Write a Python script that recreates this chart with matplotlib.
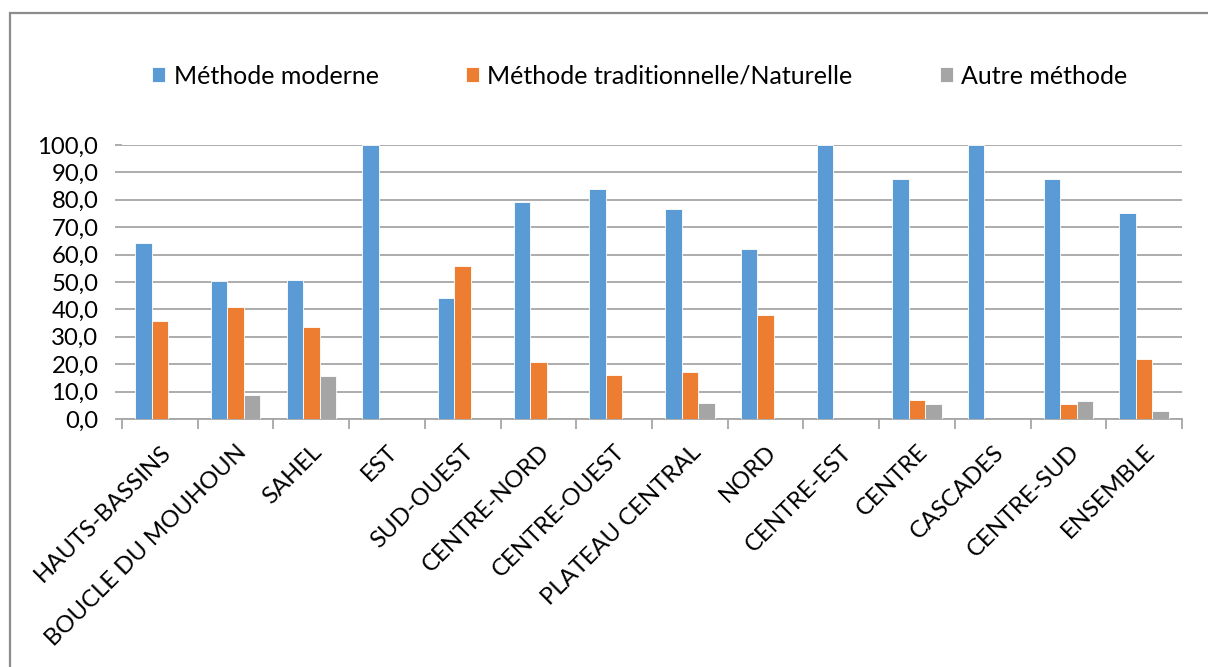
import matplotlib
matplotlib.use("Agg")
import matplotlib.pyplot as plt
import numpy as np
from matplotlib.patches import Rectangle
from matplotlib.ticker import FixedLocator, FuncFormatter

categories = ["HAUTS-BASSINS", "BOUCLE DU MOUHOUN", "SAHEL", "EST", "SUD-OUEST",
              "CENTRE-NORD", "CENTRE-OUEST", "PLATEAU CENTRAL", "NORD", "CENTRE-EST",
              "CENTRE", "CASCADES", "CENTRE-SUD", "ENSEMBLE"]
moderne = [64.1, 50.4, 50.6, 100.0, 44.3, 79.1, 83.8, 76.8, 61.9, 100.0, 87.7, 100.0, 87.7, 75.1]
traditionnelle = [35.9, 40.8, 33.6, 0.0, 55.7, 20.9, 16.1, 17.2, 38.0, 0.0, 6.9, 0.0, 5.5, 21.8]
autre = [0.0, 8.8, 15.7, 0.0, 0.0, 0.0, 0.0, 6.0, 0.0, 0.0, 5.4, 0.0, 6.6, 2.9]
series_names = ["Méthode moderne", "Méthode traditionnelle/Naturelle", "Autre méthode"]
colors = ["#5B9BD5", "#ED7D31", "#A5A5A5"]

plt.rcParams['font.family'] = ['Lato', 'DejaVu Sans']
FS = 17.2
LFS = 18

W, H = 1208, 667
fig = plt.figure(figsize=(W / 100, H / 100), dpi=100)
ax = fig.add_axes([122 / W, 1 - 419 / H, (1182 - 122) / W, (419 - 145) / H])

x = np.arange(len(categories))
bw = 0.218
handles = []
for i, (vals, name, c) in enumerate(zip([moderne, traditionnelle, autre], series_names, colors)):
    b = ax.bar(x + (i - 1) * bw, vals, width=bw, color=c, edgecolor="white",
               linewidth=0.6, label=name, zorder=3)
    handles.append(b)

ax.set_xlim(-0.5, len(categories) - 0.5)
ax.set_ylim(0, 100)
ax.yaxis.set_major_locator(FixedLocator(np.arange(0, 101, 10)))
ax.yaxis.set_major_formatter(FuncFormatter(lambda v, p: f"{v:.1f}".replace(".", ",")))
ax.grid(axis="y", color="#a6a6a6", linewidth=1.3, zorder=0)
ax.set_axisbelow(True)
for s in ["left", "right", "top"]:
    ax.spines[s].set_visible(False)
ax.spines["bottom"].set_color("#a6a6a6")
ax.spines["bottom"].set_linewidth(1.3)
ax.tick_params(axis="y", length=5, width=1.3, color="#a6a6a6", pad=12, labelsize=FS)

ax.set_xticks(x)
ax.set_xticklabels(categories, rotation=45, ha="right", va="top",
                   rotation_mode="anchor", fontsize=FS)
ax.tick_params(axis="x", which="major", length=0, pad=16)
ax.set_xticks(np.arange(-0.5, len(categories), 1.0), minor=True)
ax.tick_params(axis="x", which="minor", length=7, width=1.3, color="#a6a6a6")

leg = fig.legend(handles=handles, labels=series_names, loc="center",
                 bbox_to_anchor=(640 / W, 1 - 76 / H), ncol=3, frameon=False,
                 fontsize=LFS, handlelength=0.5, handleheight=0.55,
                 handletextpad=0.35, columnspacing=3.5)

fig.patches.append(Rectangle((10 / W, -0.05), 1.1, 1.05 - 13 / H,
                             transform=fig.transFigure, fill=False,
                             edgecolor="#8c8c8c", linewidth=1.6))

fig.savefig("out.png", dpi=100)
